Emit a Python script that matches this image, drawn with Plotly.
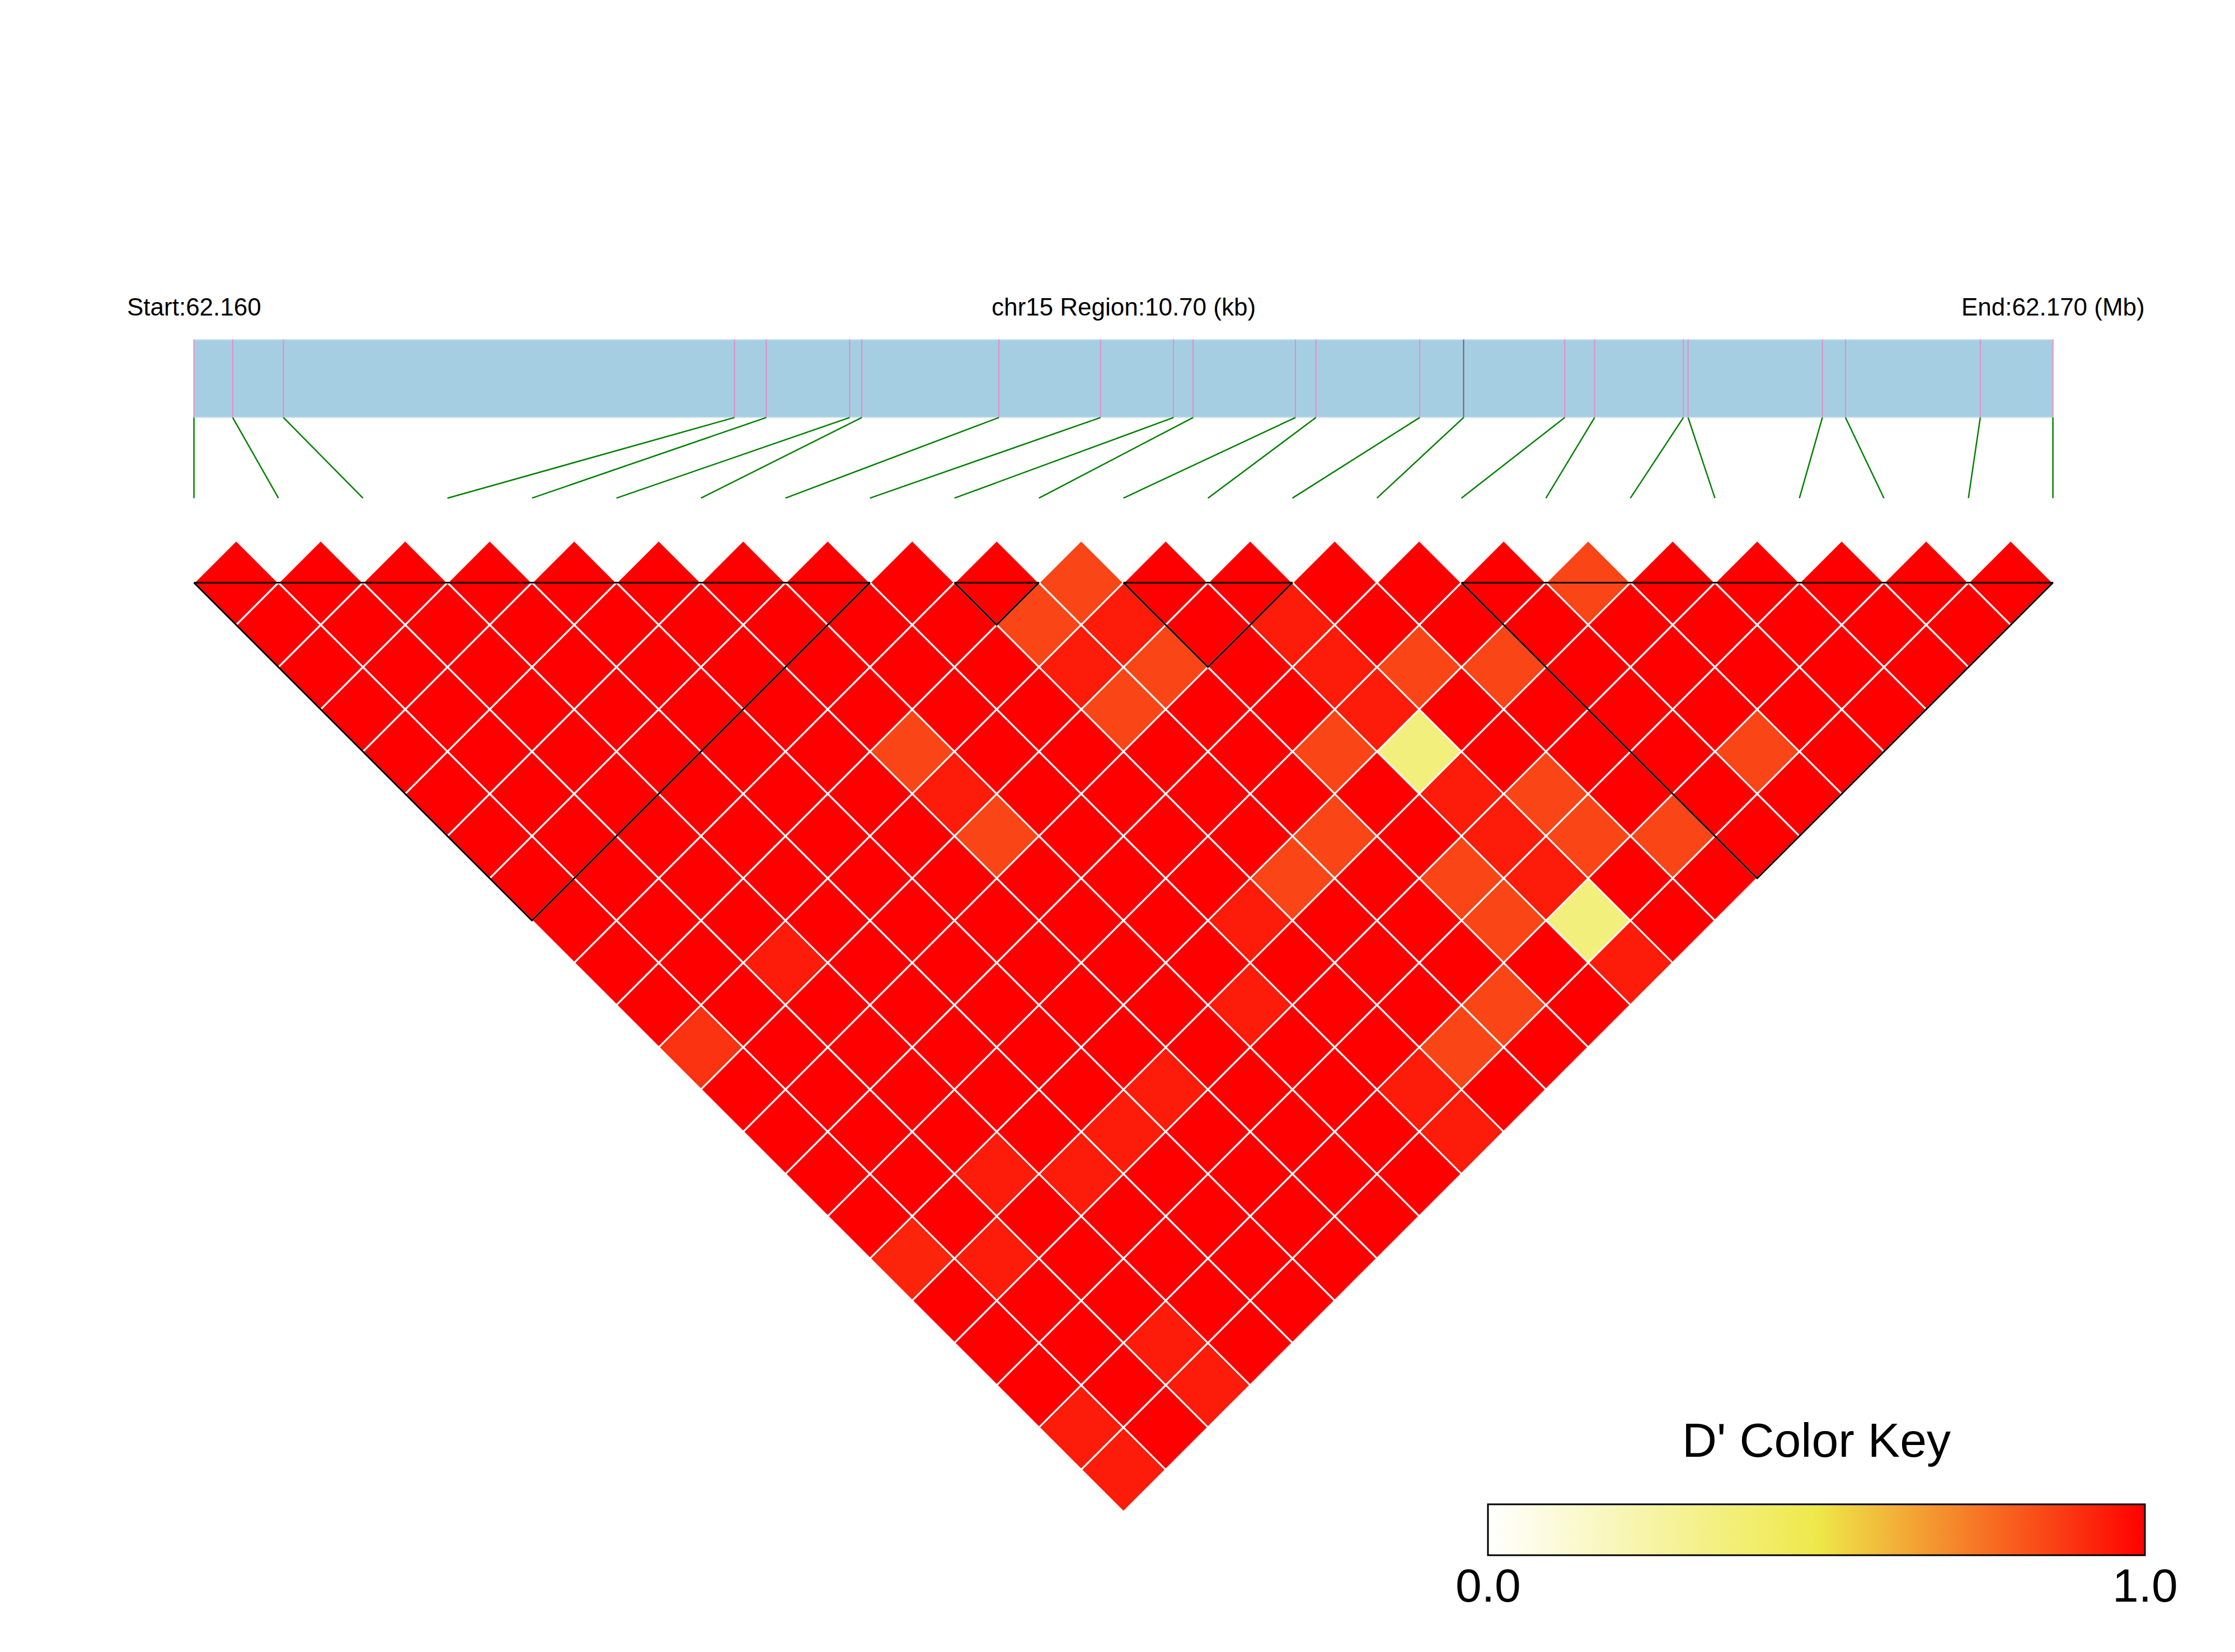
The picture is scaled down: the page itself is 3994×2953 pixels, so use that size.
import plotly.graph_objects as go
from plotly.colors import sample_colorscale

# ---------------- data ----------------
chrom = "chr15"
snp_positions = [62159700, 62159923, 62160215, 62162811, 62162994, 62163474,
                 62163544, 62164333, 62164918, 62165338, 62165451, 62166040,
                 62166158, 62166755, 62167008, 62167590, 62167762, 62168273,
                 62168300, 62169073, 62169206, 62169982, 62170400]
highlight_snps = [14]
ld_blocks = [(0, 8), (9, 10), (11, 13), (15, 22)]
key_range = [0.0, 1.0]

# D' values, row i holds pairs (i, j) for j = i+1 .. last SNP
dprime_rows = [
    [1.00, 1.00, 1.00, 1.00, 1.00, 1.00, 1.00, 1.00, 1.00, 1.00, 1.00, 0.89, 1.00, 1.00, 1.00, 1.00, 0.92, 1.00, 1.00, 1.00, 0.94, 0.94],
    [1.00, 1.00, 1.00, 1.00, 1.00, 1.00, 1.00, 1.00, 1.00, 1.00, 1.00, 1.00, 1.00, 1.00, 1.00, 1.00, 0.94, 1.00, 1.00, 1.00, 1.00],
    [1.00, 1.00, 1.00, 1.00, 1.00, 1.00, 1.00, 1.00, 1.00, 0.94, 1.00, 1.00, 1.00, 1.00, 0.94, 1.00, 1.00, 1.00, 0.94, 0.94],
    [1.00, 1.00, 1.00, 1.00, 1.00, 1.00, 1.00, 1.00, 1.00, 1.00, 1.00, 1.00, 1.00, 1.00, 0.94, 1.00, 1.00, 1.00, 1.00],
    [1.00, 1.00, 1.00, 1.00, 1.00, 1.00, 1.00, 1.00, 1.00, 1.00, 1.00, 1.00, 1.00, 0.94, 1.00, 1.00, 1.00, 1.00],
    [1.00, 1.00, 1.00, 1.00, 1.00, 1.00, 1.00, 1.00, 1.00, 1.00, 1.00, 1.00, 0.94, 1.00, 1.00, 1.00, 1.00],
    [1.00, 1.00, 1.00, 1.00, 0.85, 0.94, 0.85, 1.00, 1.00, 1.00, 1.00, 1.00, 1.00, 1.00, 1.00, 1.00],
    [1.00, 1.00, 1.00, 1.00, 1.00, 1.00, 1.00, 1.00, 1.00, 1.00, 0.94, 1.00, 1.00, 1.00, 1.00],
    [1.00, 1.00, 1.00, 1.00, 1.00, 1.00, 1.00, 1.00, 0.94, 1.00, 1.00, 1.00, 0.94, 0.94],
    [1.00, 0.85, 0.94, 0.85, 1.00, 1.00, 1.00, 0.85, 1.00, 1.00, 1.00, 0.85, 1.00],
    [0.85, 0.94, 0.85, 1.00, 1.00, 1.00, 0.85, 1.00, 1.00, 1.00, 0.85, 1.00],
    [1.00, 1.00, 1.00, 1.00, 0.85, 1.00, 1.00, 0.85, 0.85, 1.00, 1.00],
    [1.00, 0.94, 0.94, 0.94, 0.36, 0.94, 0.94, 0.94, 0.36, 0.94],
    [1.00, 1.00, 0.85, 1.00, 1.00, 0.85, 0.85, 1.00, 1.00],
    [1.00, 1.00, 0.85, 1.00, 1.00, 1.00, 0.85, 1.00],
    [1.00, 1.00, 1.00, 1.00, 1.00, 1.00, 1.00],
    [0.85, 1.00, 1.00, 1.00, 0.85, 1.00],
    [1.00, 1.00, 1.00, 1.00, 1.00],
    [1.00, 1.00, 1.00, 1.00],
    [1.00, 1.00, 1.00],
    [1.00, 1.00],
    [1.00],
]

# ---------------- styles / layout constants ----------------
W, H = 3994, 2953
PAGE_PAD = 8            # default body margin of the html page (px)
UNIT = 151.0            # px per SNP step
FONT = "Liberation Sans, Arial, sans-serif"
COLORSCALE = [[0.0, "rgb(255,255,255)"], [0.5, "rgb(238,233,74)"], [1.0, "rgb(255,0,0)"]]
BAR_Y0, BAR_Y1 = 1.954, 2.877
LINK_Y = 1.0
LABEL_Y = 3.262
sh = PAGE_PAD / UNIT
X_RANGE = [-2.2954 + sh, 24.155 + sh]
Y_RANGE = [-12.659 - sh, 6.8967 - sh]


def px(xp):
    return (xp - PAGE_PAD) / W


def py(yp):
    return 1 - (yp - PAGE_PAD) / H


n = len(snp_positions)
span = snp_positions[-1] - snp_positions[0]
bar_x = [(p - snp_positions[0]) / span * (n - 1) for p in snp_positions]
snp_x = list(range(n))

fig = go.Figure()

# genomic region bar
fig.add_trace(go.Scatter(
    x=[bar_x[0], bar_x[-1], bar_x[-1], bar_x[0], bar_x[0]],
    y=[BAR_Y0, BAR_Y0, BAR_Y1, BAR_Y1, BAR_Y0],
    mode="lines", fill="toself", fillcolor="#A6CEE3",
    line=dict(color="#D2E5F0", width=2), hoverinfo="skip", showlegend=False))

# SNP ticks on bar
for hl in (False, True):
    xs, ys = [], []
    for k, bx in enumerate(bar_x):
        if (k in highlight_snps) == hl:
            xs += [bx, bx, None]
            ys += [BAR_Y0, BAR_Y1, None]
    fig.add_trace(go.Scatter(
        x=xs, y=ys, mode="lines",
        line=dict(color="#666666" if hl else "#E98AC6", width=2),
        hoverinfo="skip", showlegend=False))

# connectors from bar to the SNP columns
lx, ly = [], []
for bx, sx in zip(bar_x, snp_x):
    lx += [bx, sx, None]
    ly += [BAR_Y0, LINK_Y, None]
fig.add_trace(go.Scatter(x=lx, y=ly, mode="lines",
                         line=dict(color="#008000", width=2.5),
                         hoverinfo="skip", showlegend=False))

# LD cells (diamonds) grouped by value
groups = {}
cxs, cys, vals = [], [], []
for i, row in enumerate(dprime_rows):
    for k, v in enumerate(row):
        j = i + 1 + k
        cx = (snp_x[i] + snp_x[j]) / 2
        cy = -(snp_x[j] - snp_x[i] - 1) / 2
        g = groups.setdefault(v, ([], []))
        g[0].extend([cx - 0.5, cx, cx + 0.5, cx, cx - 0.5, None])
        g[1].extend([cy, cy + 0.5, cy, cy - 0.5, cy, None])
        cxs.append(cx); cys.append(cy); vals.append(v)

for v in sorted(groups):
    xs, ys = groups[v]
    col = sample_colorscale(COLORSCALE, [v])[0]
    fig.add_trace(go.Scatter(x=xs, y=ys, mode="lines", fill="toself",
                             fillcolor=col, line=dict(color="white", width=3),
                             hoverinfo="skip", showlegend=False))

# LD block outlines
bx_, by_ = [], []
for a, b in ld_blocks:
    xa, xb = snp_x[a], snp_x[b]
    bx_ += [xa, xb, (xa + xb) / 2, xa, None]
    by_ += [0, 0, -(xb - xa) / 2, 0, None]
fig.add_trace(go.Scatter(x=bx_, y=by_, mode="lines",
                         line=dict(color="black", width=3),
                         hoverinfo="skip", showlegend=False))

# colour key (colorbar attached to invisible markers at cell centres)
KEY_L, KEY_R, KEY_T = 2659, 3833, 2689
fig.add_trace(go.Scatter(
    x=cxs, y=cys, mode="markers", hoverinfo="skip", showlegend=False,
    marker=dict(size=1, opacity=0, color=vals, colorscale=COLORSCALE,
                cmin=key_range[0], cmax=key_range[1], showscale=True,
                colorbar=dict(orientation="h", x=px((KEY_L + KEY_R) / 2), xanchor="center",
                              y=py(KEY_T), yanchor="top",
                              len=KEY_R - KEY_L, lenmode="pixels",
                              thickness=91, thicknessmode="pixels",
                              xpad=0, ypad=0,
                              outlinewidth=3, outlinecolor="black",
                              showticklabels=False, ticks=""))))

for xp, v in [(KEY_L, key_range[0]), (KEY_R, key_range[1])]:
    fig.add_annotation(x=px(xp), y=py(2834), xref="paper", yref="paper",
                       text=f"{v:.1f}", showarrow=False,
                       xanchor="center", yanchor="middle",
                       font=dict(size=84, family=FONT, color="black"))

fig.add_annotation(x=px((KEY_L + KEY_R) / 2), y=py(2574), xref="paper", yref="paper",
                   text="D' Color Key", showarrow=False,
                   xanchor="center", yanchor="middle",
                   font=dict(size=86, family=FONT, color="black"))

# header labels
start_lbl = f"Start:{snp_positions[0] / 1e6:.3f}"
mid_lbl = f"{chrom} Region:{span / 1000:.2f} (kb)"
end_lbl = f"End:{snp_positions[-1] / 1e6:.3f} (Mb)"
for xx, t in [(bar_x[0], start_lbl), ((bar_x[0] + bar_x[-1]) / 2, mid_lbl), (bar_x[-1], end_lbl)]:
    fig.add_annotation(x=xx, y=LABEL_Y, text=t, showarrow=False,
                       xanchor="center", yanchor="middle",
                       font=dict(size=44, family=FONT, color="black"))

fig.update_layout(
    width=W, height=H, margin=dict(l=0, r=0, t=0, b=0),
    paper_bgcolor="white", plot_bgcolor="white",
    xaxis=dict(visible=False, range=X_RANGE, fixedrange=True),
    yaxis=dict(visible=False, range=Y_RANGE, fixedrange=True),
    showlegend=False,
)

fig.write_html("out.html")
